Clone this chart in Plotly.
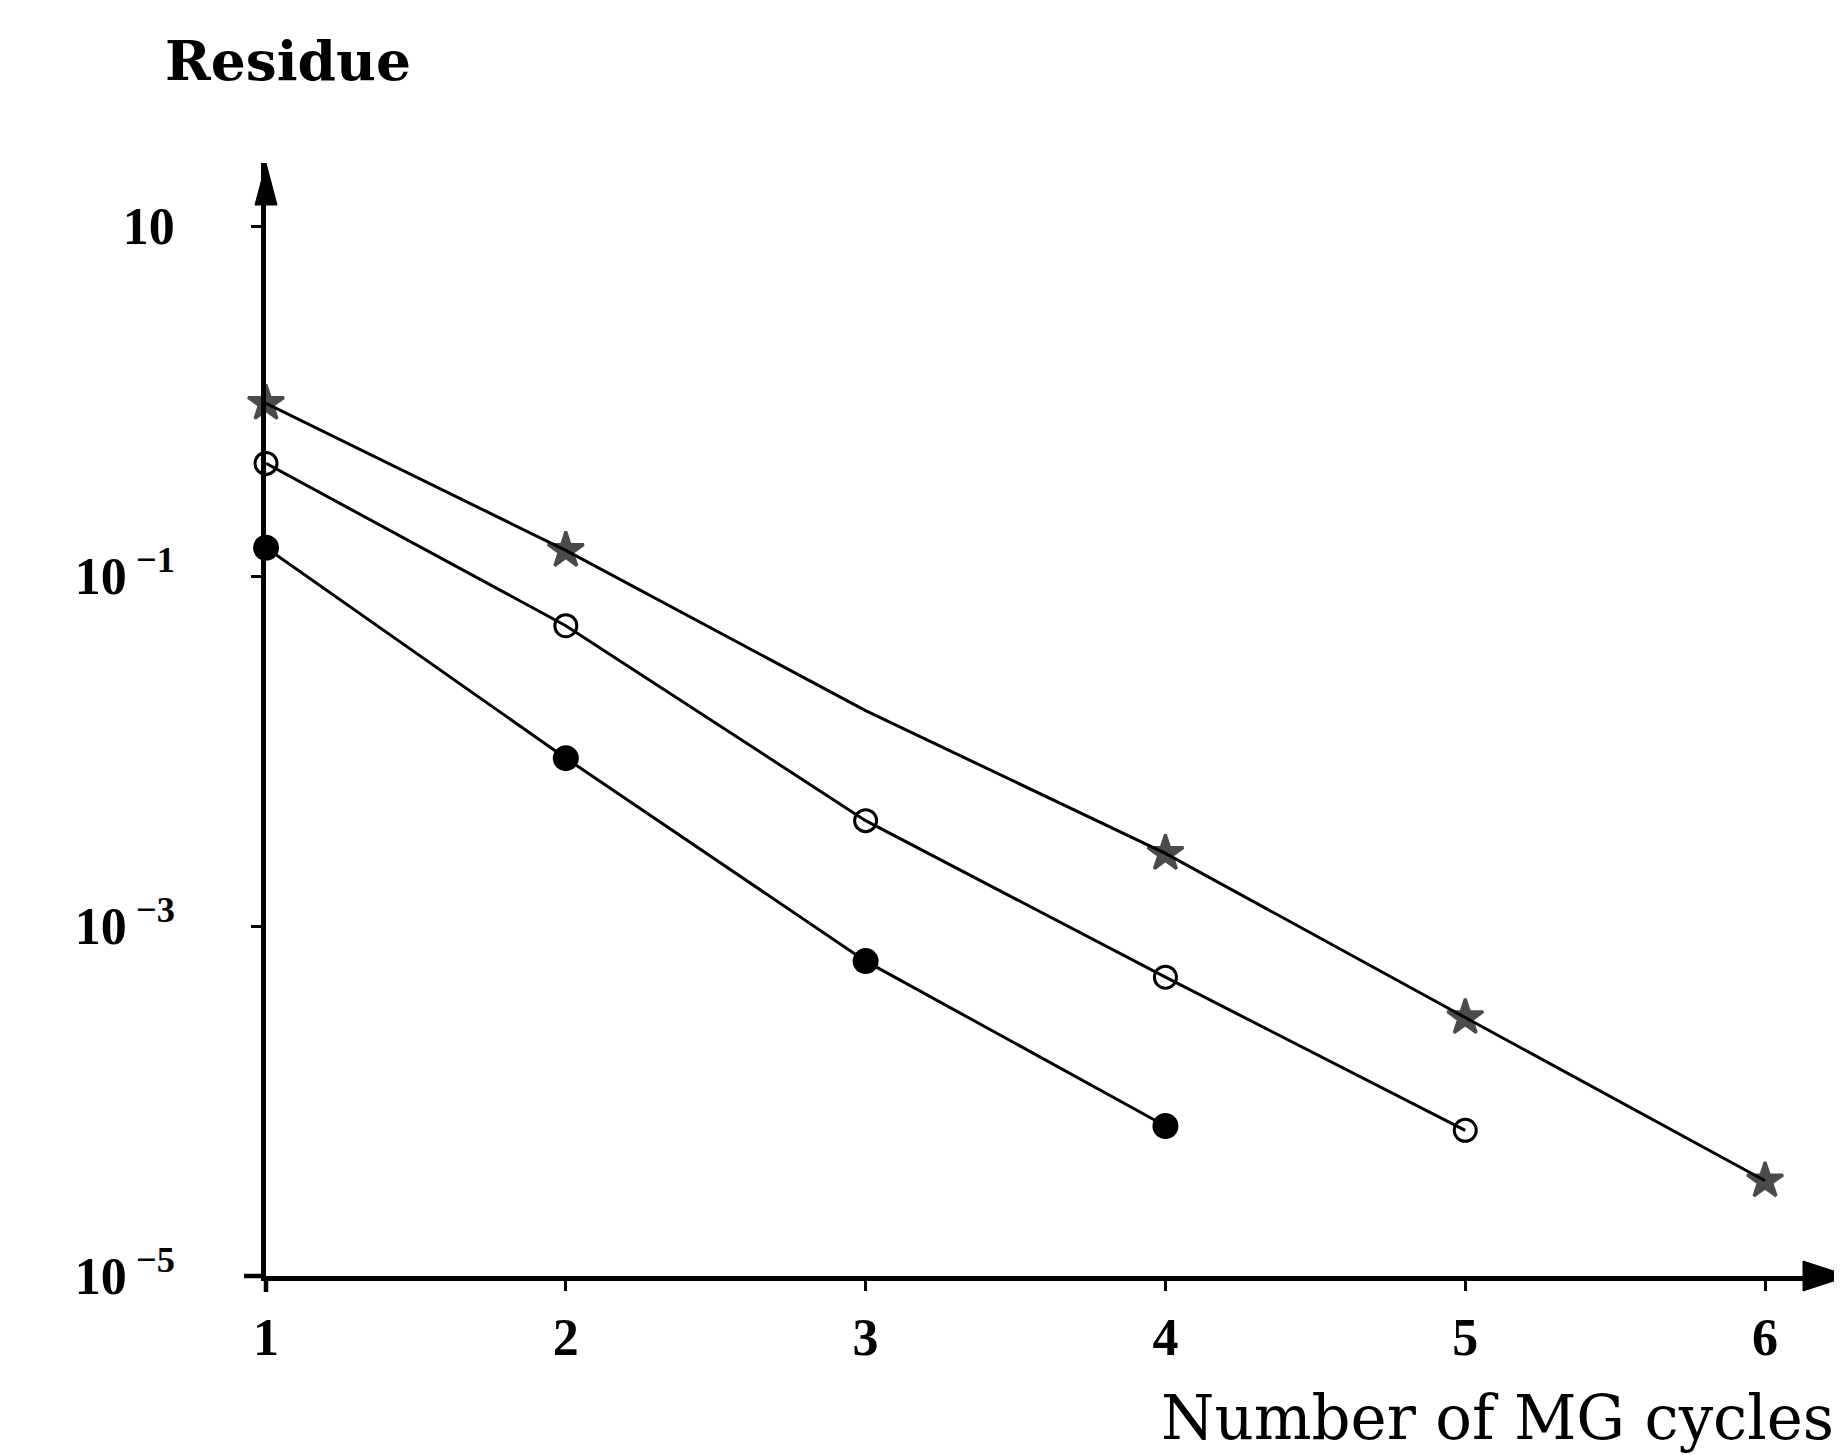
import plotly.graph_objects as go

# Data (residue vs. number of MG cycles)
cycles_star = [1, 2, 3, 4, 5, 6]
residue_star = [0.97, 0.14, 0.017, 0.0026, 3.0e-4, 3.5e-5]
star_marker_sizes = [27, 27, 0, 27, 27, 27]   # no visible star at cycle 3 in the original

cycles_open = [1, 2, 3, 4, 5]
residue_open = [0.44, 0.052, 0.004, 5.1e-4, 6.8e-5]

cycles_filled = [1, 2, 3, 4]
residue_filled = [0.145, 0.0091, 6.3e-4, 7.2e-5]

x_tickvals = [1, 2, 3, 4, 5, 6]
x_ticktext = ["1", "2", "3", "4", "5", "6"]
y_tickvals = [10, 1e-1, 1e-3, 1e-5]
y_ticktext = ["10", "10<sup> \u22121</sup>", "10<sup> \u22123</sup>", "10<sup> \u22125</sup>"]

W, H = 1842, 1455
L, R, T, B = 258, 1, 155, 187

fig = go.Figure()

fig.add_trace(go.Scatter(
    x=cycles_star, y=residue_star, mode="lines+markers",
    line=dict(color="black", width=3),
    marker=dict(symbol="star", size=star_marker_sizes, color="black",
                line=dict(color="black", width=3)),
    cliponaxis=False, showlegend=False))

fig.add_trace(go.Scatter(
    x=cycles_open, y=residue_open, mode="lines+markers",
    line=dict(color="black", width=3),
    marker=dict(symbol="circle-open", size=22, color="black", line=dict(width=3)),
    cliponaxis=False, showlegend=False))

fig.add_trace(go.Scatter(
    x=cycles_filled, y=residue_filled, mode="lines+markers",
    line=dict(color="black", width=3),
    marker=dict(symbol="circle", size=26, color="black"),
    cliponaxis=False, showlegend=False))

tick_font = dict(family="Liberation Serif", size=52, color="black", weight="bold")

fig.update_layout(
    width=W, height=H,
    margin=dict(l=L, r=R, t=T, b=B, pad=0),
    paper_bgcolor="white", plot_bgcolor="white",
    xaxis=dict(range=[1, 6.28], showgrid=False, zeroline=False,
               showline=True, linecolor="black", linewidth=4.5,
               ticks="outside", ticklen=10, tickwidth=3, tickcolor="black",
               tickvals=x_tickvals, ticktext=x_ticktext,
               tickfont=tick_font, ticklabelstandoff=2),
    yaxis=dict(type="log", range=[-5, 1.36], showgrid=False, zeroline=False,
               showline=True, linecolor="black", linewidth=4.5,
               ticks="outside", ticklen=10, tickwidth=3, tickcolor="black",
               tickvals=y_tickvals, ticktext=y_ticktext,
               tickfont=tick_font, ticklabelstandoff=66),
    shapes=[
        # arrowhead on the y axis (paper coords so it is not clipped)
        dict(type="path", xref="paper", xsizemode="pixel", xanchor=0.0,
             yref="paper", ysizemode="pixel", yanchor=1.0,
             path="M 0 0 L -11 -42 L 11 -42 Z",
             fillcolor="black", line=dict(color="black", width=1)),
        # arrowhead on the x axis
        dict(type="path", xref="paper", xsizemode="pixel", xanchor=1.0,
             yref="paper", ysizemode="pixel", yanchor=0.0,
             path="M 0 0 L -46 15 L -46 -15 Z",
             fillcolor="black", line=dict(color="black", width=1)),
        # small overshoot of the axes past the origin
        dict(type="line", xref="paper", xsizemode="pixel", xanchor=0.0, x0=-22, x1=0,
             yref="paper", y0=0, y1=0, line=dict(color="black", width=4.5)),
        dict(type="line", xref="paper", x0=0, x1=0,
             yref="paper", ysizemode="pixel", yanchor=0.0, y0=-16, y1=0,
             line=dict(color="black", width=4.5)),
    ],
)

# Axis titles
fig.add_annotation(x=0.0139, xref="paper", y=1.0917, yref="paper",
                   text="<b>Residue</b>", showarrow=False,
                   xanchor="center", yanchor="middle",
                   font=dict(family="DejaVu Serif", size=55, color="black"))
fig.add_annotation(x=0.992, xref="paper", y=-0.127, yref="paper",
                   text="Number of MG cycles", showarrow=False,
                   xanchor="right", yanchor="middle",
                   font=dict(family="DejaVu Serif", size=61, color="black"))

fig.write_html("out.html")
